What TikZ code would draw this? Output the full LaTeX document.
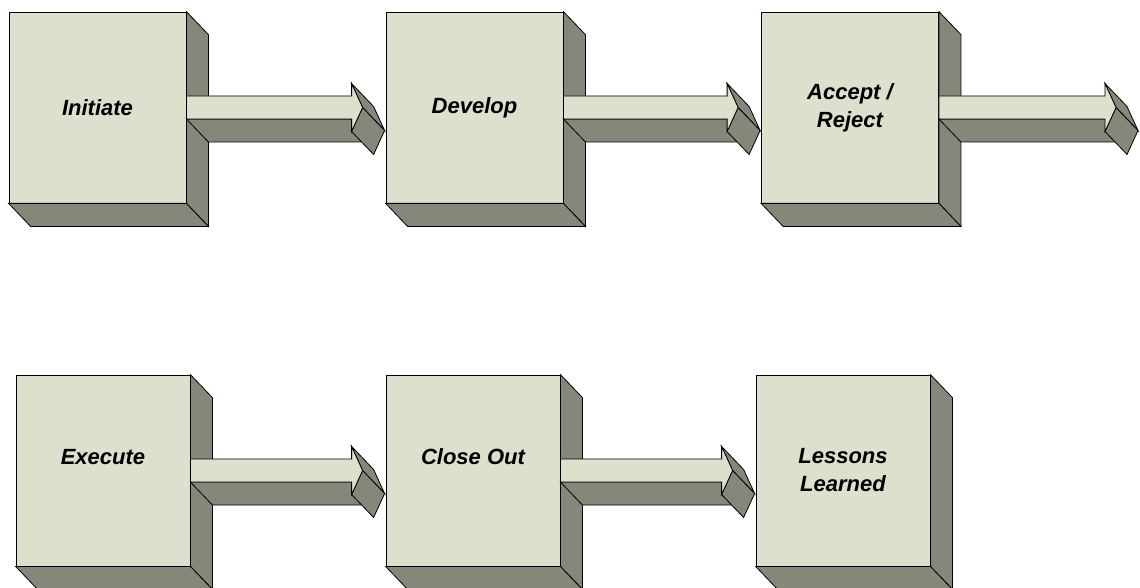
\documentclass[tikz,border=0pt]{standalone}
\usepackage{fontspec}
\setmainfont{Liberation Sans}
\usetikzlibrary{calc}
\definecolor{facecol}{RGB}{221,224,204}
\definecolor{sidecol}{RGB}{133,135,122}
\tikzset{
  box/.style={draw=black, fill=facecol, line width=0.8pt, minimum height=191pt,
    inner sep=0pt, align=center, font=\fontsize{22}{28}\selectfont\bfseries\itshape},
  sideface/.style={draw=black, fill=sidecol, line width=0.8pt, line join=miter},
  frontface/.style={draw=black, fill=facecol, line width=0.8pt, line join=miter},
}
\newcommand\boxsides[1]{%
  \path[sideface] (#1.north east) -- ++(22,23) -- ($(#1.south east)+(22,23)$) -- (#1.south east) -- cycle;
  \path[sideface] (#1.south west) -- ++(22,23) -- ($(#1.south east)+(22,23)$) -- (#1.south east) -- cycle;
}
\newcommand\blockarrow[2]{%
  \coordinate (hb) at ($(#1.east -| #2)+(-34,0)$);
  \coordinate (cc) at (#1.east);
  \path[sideface] ($(cc)+(0,11.5)$) -- ($(hb)+(0,11.5)$) -- ($(hb)+(22,34.5)$) -- ($(cc)+(22,34.5)$) -- cycle;
  \path[sideface] ($(hb)+(0,-24)$) -- ($(hb)+(11,0)$) -- ($(hb)+(33,23)$) -- ($(hb)+(22,-1)$) -- cycle;
  \path[sideface] ($(hb)+(11,0)$) -- ($(hb)+(0,24)$) -- ($(hb)+(22,47)$) -- ($(hb)+(33,23)$) -- cycle;
  \path[frontface] ($(cc)+(0,-11.5)$) -- ($(hb)+(0,-11.5)$) -- ($(hb)+(0,-24)$) -- ($(hb)+(11,0)$)
     -- ($(hb)+(0,24)$) -- ($(hb)+(0,11.5)$) -- ($(cc)+(0,11.5)$) -- cycle;
}
\begin{document}
\begin{tikzpicture}[x=1pt,y=-1pt]
\useasboundingbox (0,0) rectangle (1140,588);
\clip (0,0) rectangle (1140,588);
% row 1
\node[box, minimum width=177pt] (init) at (97.5,107.5) {Initiate};
\boxsides{init}
\node[box, minimum width=177pt] (dev) at (474.5,107.5) {Develop};
\blockarrow{init}{dev.west}
\boxsides{dev}
\node[box, minimum width=177pt] (acc) at (850,107.5) {Accept /\\Reject};
\blockarrow{dev}{acc.west}
\boxsides{acc}
\coordinate (accout) at (1139,107.5);
\blockarrow{acc}{accout}
% row 2
\node[box, minimum width=174pt] (exe) at (103,470.5) {Execute\\\mbox{}};
\boxsides{exe}
\node[box, minimum width=174pt] (close) at (473,470.5) {Close Out\\\mbox{}};
\blockarrow{exe}{close.west}
\boxsides{close}
\node[box, minimum width=174pt] (less) at (843,470.5) {Lessons\\Learned};
\blockarrow{close}{less.west}
\boxsides{less}
\end{tikzpicture}
\end{document}
